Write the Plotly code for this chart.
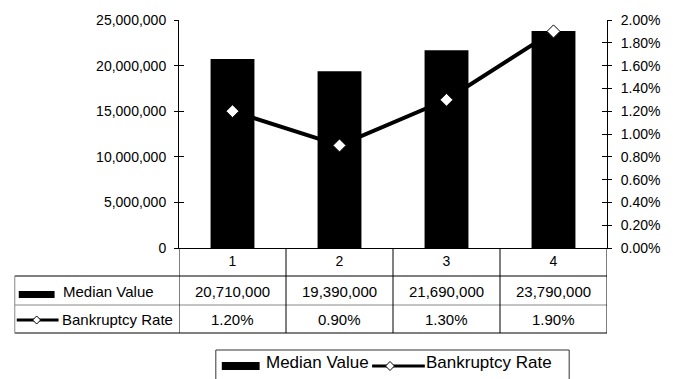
import plotly.graph_objects as go

# ---- data ----
categories = ["1", "2", "3", "4"]
median_values = [20710000, 19390000, 21690000, 23790000]
bankruptcy_rates = [1.20, 0.90, 1.30, 1.90]  # percent
series_names = ["Median Value", "Bankruptcy Rate"]
left_range = [0, 25000000]
right_range = [0, 2.0]

# ---- layout constants (pixels) ----
W, H = 673, 379
L, R, T, B = 179, 609, 20, 248
FONT = "Liberation Sans, Arial, Helvetica, sans-serif"


def px(x):
    return (x - L) / (R - L)


def py(y):
    return (B - y) / (B - T)


xs = list(range(1, len(categories) + 1))

fig = go.Figure()
# helper traces so the tick-only overlay axes get drawn (no visible marks)
fig.add_trace(go.Scatter(x=xs, y=median_values, yaxis="y3", mode="none",
                         showlegend=False, hoverinfo="skip"))
fig.add_trace(go.Scatter(x=xs, y=bankruptcy_rates, yaxis="y4", mode="none",
                         showlegend=False, hoverinfo="skip"))
fig.add_trace(go.Bar(x=xs, y=median_values, name=series_names[0],
                     marker=dict(color="black", line=dict(width=0)),
                     width=0.41, yaxis="y", showlegend=False))
fig.add_trace(go.Scatter(x=xs, y=bankruptcy_rates, name=series_names[1],
                         mode="lines+markers", yaxis="y2", showlegend=False,
                         line=dict(color="black", width=4),
                         marker=dict(symbol="diamond", size=10, color="white",
                                     line=dict(color="black", width=1))))

shapes = []
annotations = []

# ---- data table ----
row_y = [248, 276, 305, 333]
tbl_left = 14
line_black = dict(color="black", width=1)
line_grey = dict(color="#888888", width=1)
# horizontal lines
shapes.append(dict(type="line", xref="paper", yref="paper", x0=px(tbl_left), x1=1,
                   y0=py(row_y[1]), y1=py(row_y[1]), line=line_black))
shapes.append(dict(type="line", xref="paper", yref="paper", x0=px(tbl_left), x1=1,
                   y0=py(row_y[2]), y1=py(row_y[2]), line=line_grey))
shapes.append(dict(type="line", xref="paper", yref="paper", x0=px(tbl_left), x1=1,
                   y0=py(row_y[3]), y1=py(row_y[3]), line=line_black))
# vertical lines
shapes.append(dict(type="line", xref="paper", yref="paper", x0=px(tbl_left), x1=px(tbl_left),
                   y0=py(row_y[1]), y1=py(row_y[3]), line=line_grey))
for i in range(len(categories) + 1):
    xv = 0.5 + i
    shapes.append(dict(type="line", xref="x", yref="paper", x0=xv, x1=xv,
                       y0=py(row_y[0]), y1=py(row_y[3]), line=line_black))

# row headers keys
shapes.append(dict(type="rect", xref="paper", yref="paper", x0=px(18), x1=px(54),
                   y0=py(291), y1=py(298), fillcolor="black", line=dict(width=0)))
shapes.append(dict(type="line", xref="paper", yref="paper", x0=px(16), x1=px(58),
                   y0=py(320), y1=py(320), line=dict(color="black", width=3)))


def diamond(cx, cy, r):
    return (f"M {px(cx)},{py(cy - r)} L {px(cx + r)},{py(cy)} "
            f"L {px(cx)},{py(cy + r)} L {px(cx - r)},{py(cy)} Z")


shapes.append(dict(type="path", xref="paper", yref="paper", path=diamond(36, 320, 4),
                   fillcolor="white", line=dict(color="black", width=1)))

annotations.append(dict(text=series_names[0], xref="paper", yref="paper", x=px(60), y=py(291),
                        xanchor="left", yanchor="middle", showarrow=False,
                        font=dict(size=15, color="black", family=FONT)))
annotations.append(dict(text=series_names[1], xref="paper", yref="paper", x=px(59), y=py(319),
                        xanchor="left", yanchor="middle", showarrow=False,
                        font=dict(size=15, color="black", family=FONT)))

for xv, v, r in zip(xs, median_values, bankruptcy_rates):
    annotations.append(dict(text=f"{v:,}", xref="x", yref="paper", x=xv, y=py(291),
                            xanchor="center", yanchor="middle", showarrow=False,
                            font=dict(size=15, color="black", family=FONT)))
    annotations.append(dict(text=f"{r:.2f}%", xref="x", yref="paper", x=xv, y=py(319),
                            xanchor="center", yanchor="middle", showarrow=False,
                            font=dict(size=15, color="black", family=FONT)))

# ---- legend (drawn) ----
shapes.append(dict(type="rect", xref="paper", yref="paper", x0=px(216), x1=px(571),
                   y0=py(350), y1=py(392), line=dict(color="#333333", width=1),
                   fillcolor="rgba(0,0,0,0)"))
shapes.append(dict(type="rect", xref="paper", yref="paper", x0=px(222), x1=px(260),
                   y0=py(362), y1=py(370), fillcolor="black", line=dict(width=0)))
annotations.append(dict(text=series_names[0], xref="paper", yref="paper", x=px(264), y=py(362),
                        xanchor="left", yanchor="middle", showarrow=False,
                        font=dict(size=17, color="black", family=FONT)))
shapes.append(dict(type="line", xref="paper", yref="paper", x0=px(373), x1=px(426),
                   y0=py(366), y1=py(366), line=dict(color="black", width=3)))
shapes.append(dict(type="path", xref="paper", yref="paper", path=diamond(391, 366, 4.5),
                   fillcolor="white", line=dict(color="black", width=1)))
annotations.append(dict(text=series_names[1], xref="paper", yref="paper", x=px(425), y=py(362),
                        xanchor="left", yanchor="middle", showarrow=False,
                        font=dict(size=17, color="black", family=FONT)))

axis_common = dict(showgrid=False, zeroline=False, showline=True, linecolor="black",
                   linewidth=1, tickcolor="black", tickfont=dict(size=14, color="black", family=FONT))

fig.update_layout(
    width=W, height=H,
    margin=dict(l=L, r=W - R, t=T, b=H - B, pad=0),
    paper_bgcolor="white", plot_bgcolor="white",
    font=dict(family=FONT, color="black"),
    bargap=0.59,
    xaxis=dict(range=[0.5, len(categories) + 0.5], tickvals=xs, ticktext=categories,
               ticks="", showgrid=False, zeroline=False, showline=True, linecolor="black",
               linewidth=1, tickfont=dict(size=14, color="black", family=FONT)),
    yaxis=dict(range=left_range, dtick=5000000, tickformat=",", ticks="outside", ticklen=4,
               ticklabelstandoff=5, **axis_common),
    yaxis2=dict(range=right_range, dtick=0.2, tickformat=".2f", ticksuffix="%",
                overlaying="y", side="right", ticks="outside", ticklen=4,
                ticklabelstandoff=6, **axis_common),
    yaxis3=dict(range=left_range, dtick=5000000, overlaying="y", side="left", anchor="x",
                ticks="inside", ticklen=5, tickcolor="black", showticklabels=False,
                showline=False, showgrid=False, zeroline=False),
    yaxis4=dict(range=right_range, dtick=0.2, overlaying="y", side="right", anchor="x",
                ticks="inside", ticklen=5, tickcolor="black", showticklabels=False,
                showline=False, showgrid=False, zeroline=False),
    shapes=shapes,
    annotations=annotations,
    showlegend=False,
)

fig.write_html("out.html")
